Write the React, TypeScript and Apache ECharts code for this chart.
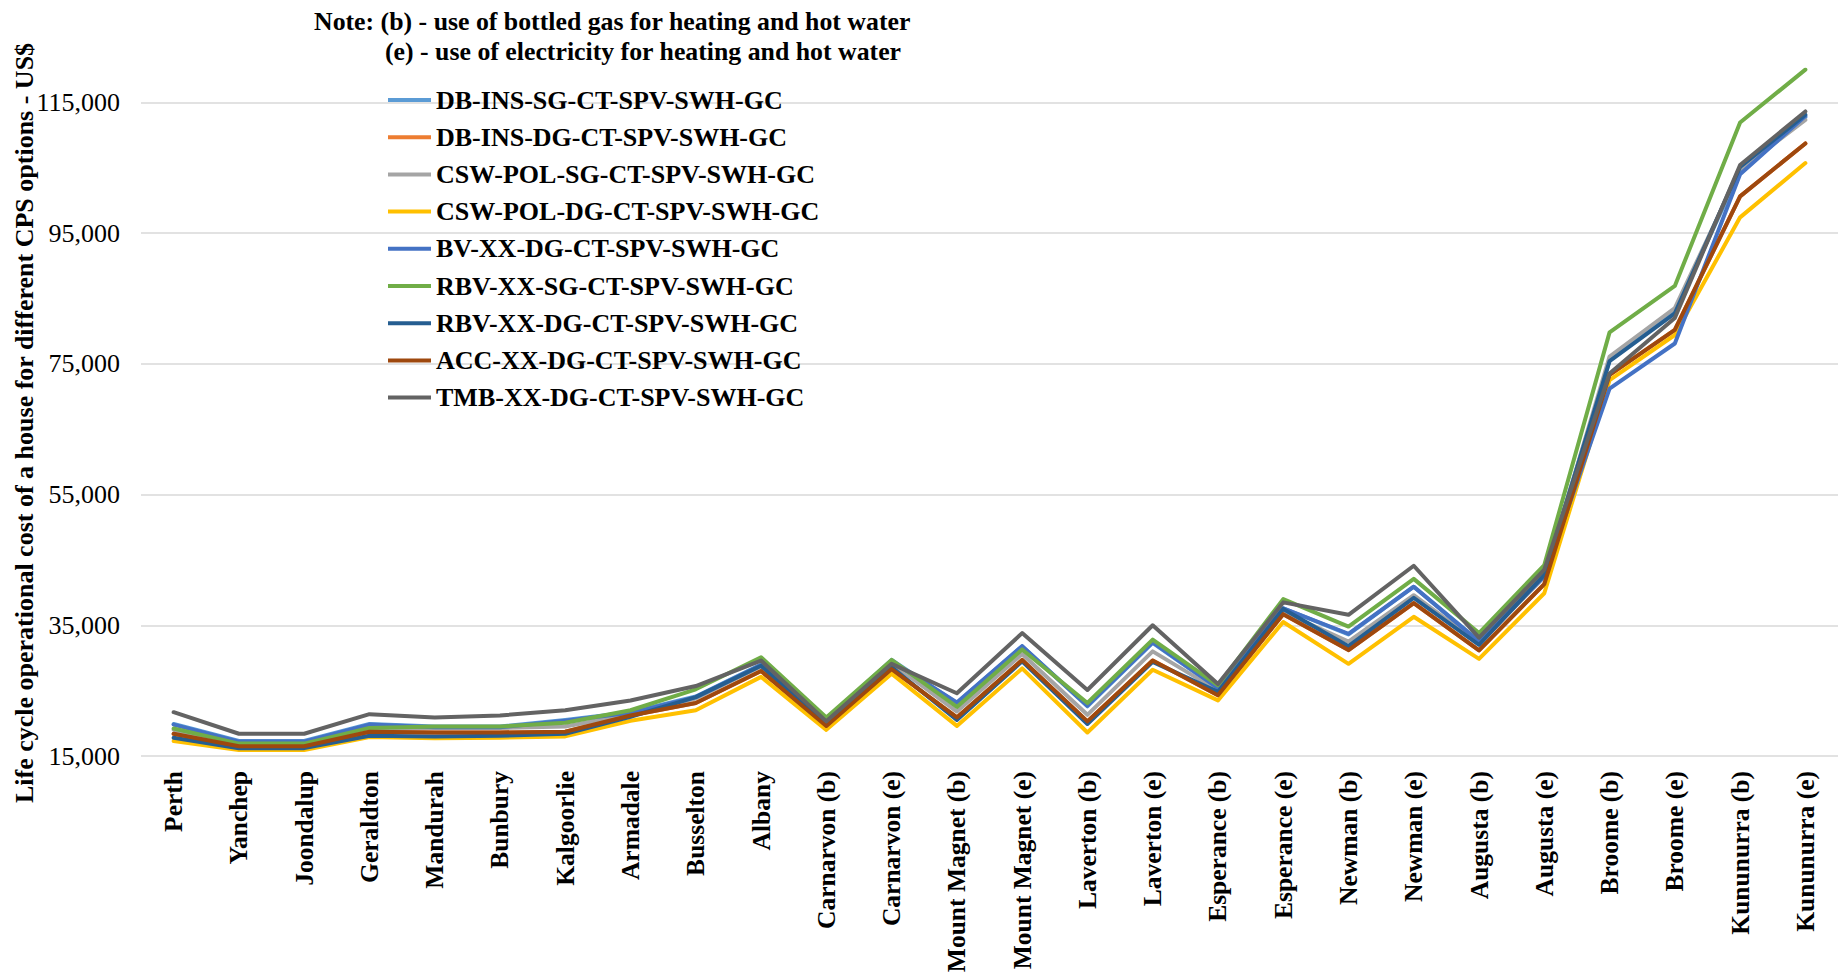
import React, { useEffect, useRef } from 'react';
import * as echarts from 'echarts';

const categories = [
  'Perth', 'Yanchep', 'Joondalup', 'Geraldton', 'Mandurah', 'Bunbury', 'Kalgoorlie', 'Armadale',
  'Busselton', 'Albany', 'Carnarvon (b)', 'Carnarvon (e)', 'Mount Magnet (b)', 'Mount Magnet (e)',
  'Laverton (b)', 'Laverton (e)', 'Esperance (b)', 'Esperance (e)', 'Newman (b)', 'Newman (e)',
  'Augusta (b)', 'Augusta (e)', 'Broome (b)', 'Broome (e)', 'Kununurra (b)', 'Kununurra (e)',
];

const seriesNames = [
  'DB-INS-SG-CT-SPV-SWH-GC',
  'DB-INS-DG-CT-SPV-SWH-GC',
  'CSW-POL-SG-CT-SPV-SWH-GC',
  'CSW-POL-DG-CT-SPV-SWH-GC',
  'BV-XX-DG-CT-SPV-SWH-GC',
  'RBV-XX-SG-CT-SPV-SWH-GC',
  'RBV-XX-DG-CT-SPV-SWH-GC',
  'ACC-XX-DG-CT-SPV-SWH-GC',
  'TMB-XX-DG-CT-SPV-SWH-GC',
];

const seriesColors = ['#5B9BD5', '#ED7D31', '#A5A5A5', '#FFC000', '#4472C4', '#70AD47', '#255E91', '#9E480E', '#636363'];

const dbInsSg = [19900, 17300, 17300, 19900, 19500, 19500, 20500, 21700, 24100, 29000, 20600, 29700, 23100, 31800, 22600, 32300, 25300, 37600, 33600, 40900, 32600, 42700, 75500, 83000, 104500, 112700];
const dbInsDg = [18400, 16500, 16500, 18700, 18600, 18600, 18700, 21200, 23100, 28000, 19600, 28300, 20900, 29700, 20300, 29600, 24300, 36700, 31200, 38400, 31150, 41300, 73300, 80200, 100600, 108700];
const cswPolSg = [19000, 16800, 16800, 19200, 19300, 19300, 19500, 21400, 23800, 28700, 20300, 29200, 21800, 30600, 21300, 31000, 25000, 37000, 32500, 39600, 32200, 42400, 76100, 83500, 104700, 112300];
const cswPolDg = [17300, 15900, 15900, 17900, 17700, 17800, 18000, 20400, 22000, 27100, 19000, 27600, 19600, 28400, 18600, 28200, 23500, 35500, 29100, 36300, 29850, 39900, 72500, 79400, 97400, 105700];
const bvXxDg = [19800, 17200, 17200, 19800, 19400, 19400, 20400, 21600, 24000, 28900, 20500, 29500, 23200, 31800, 22700, 32400, 25400, 37600, 33700, 40900, 32500, 42500, 71200, 78100, 104000, 112900];
const rbvXxSg = [19200, 16900, 16900, 19300, 19500, 19500, 20100, 22000, 25200, 30100, 20900, 29700, 22500, 31300, 23100, 32800, 25800, 39000, 34800, 42100, 33800, 44200, 79800, 86900, 111900, 120000];
const rbvXxDg = [17800, 16200, 16200, 18100, 18000, 18100, 18400, 21000, 24000, 28800, 19700, 28600, 20500, 29500, 19900, 29400, 24800, 37500, 31800, 39200, 32000, 42700, 75400, 82700, 105100, 113100];
const accXxDg = [18400, 16500, 16500, 18700, 18600, 18600, 18700, 21200, 23100, 28000, 19600, 28300, 20900, 29700, 20300, 29600, 24300, 36700, 31200, 38400, 31150, 41300, 73300, 80200, 100600, 108700];
const tmbXxDg = [21700, 18400, 18400, 21400, 20900, 21200, 22000, 23500, 25700, 29600, 20300, 29100, 24600, 33800, 25100, 35000, 26000, 38500, 36600, 44100, 33100, 43500, 73500, 82000, 105400, 113600];

const seriesValues = [dbInsSg, dbInsDg, cswPolSg, cswPolDg, bvXxDg, rbvXxSg, rbvXxDg, accXxDg, tmbXxDg];

const yMin = 15000;
const yMax = 120000;
const yInterval = 20000;

const yTitle = 'Life cycle operational cost of a house for different CPS options - US$';
const noteLine1 = 'Note: (b) - use of bottled gas for heating and hot water';
const noteLine2 = '(e) - use of electricity for heating and hot water';

const FONT = '"Liberation Serif", "Times New Roman", serif';

export default function App() {
  const ref = useRef<HTMLDivElement>(null);
  useEffect(() => {
    const chart = echarts.init(ref.current!, null, { renderer: 'svg' });
    chart.setOption({
      animation: false,
      backgroundColor: '#ffffff',
      textStyle: { fontFamily: FONT },
      grid: { left: 141, right: 0, top: 69.6, bottom: 223, containLabel: false },
      legend: {
        orient: 'vertical',
        left: 388,
        top: 87,
        padding: 0,
        itemWidth: 43,
        itemHeight: 4,
        itemGap: 11.2,
        icon: 'rect',
        selectedMode: false,
        data: seriesNames,
        textStyle: { fontFamily: FONT, fontSize: 26, fontWeight: 'bold', color: '#000', lineHeight: 26 },
      },
      graphic: [
        {
          type: 'text',
          x: 24,
          y: 423,
          rotation: Math.PI / 2,
          style: {
            text: yTitle,
            font: 'bold 26px ' + FONT,
            fill: '#000',
            align: 'center',
            verticalAlign: 'middle',
          },
        },
        {
          type: 'text',
          x: 314,
          y: 21,
          style: { text: noteLine1, font: 'bold 25.8px ' + FONT, fill: '#000', align: 'left', verticalAlign: 'middle' },
        },
        {
          type: 'text',
          x: 385,
          y: 51,
          style: { text: noteLine2, font: 'bold 25.8px ' + FONT, fill: '#000', align: 'left', verticalAlign: 'middle' },
        },
      ],
      xAxis: {
        type: 'category',
        data: categories,
        boundaryGap: true,
        axisLine: { show: false },
        axisTick: { show: false },
        axisLabel: {
          interval: 0,
          rotate: 90,
          margin: 15,
          fontFamily: FONT,
          fontSize: 25.5,
          fontWeight: 'bold',
          color: '#000',
        },
        splitLine: { show: false },
      },
      yAxis: {
        type: 'value',
        min: yMin,
        max: yMax,
        interval: yInterval,
        axisLine: { show: false },
        axisTick: { show: false },
        axisLabel: {
          margin: 21,
          fontFamily: FONT,
          fontSize: 26,
          color: '#000',
          showMaxLabel: false,
          formatter: (v: number) => v.toLocaleString('en-US'),
        },
        splitLine: { show: true, showMaxLine: false, lineStyle: { color: '#d9d9d9', width: 1.5 } },
      },
      series: seriesNames.map((name, i) => ({
        name,
        type: 'line',
        data: seriesValues[i],
        symbol: 'none',
        showSymbol: false,
        color: seriesColors[i],
        lineStyle: { color: seriesColors[i], width: 4, cap: 'round', join: 'round' },
        z: 2 + i,
      })),
    });
    return () => chart.dispose();
  }, []);
  return (
    <div
      ref={ref}
      style={{ position: 'fixed', left: 0, top: 0, width: 1838, height: 979, background: '#fff' }}
    />
  );
}
